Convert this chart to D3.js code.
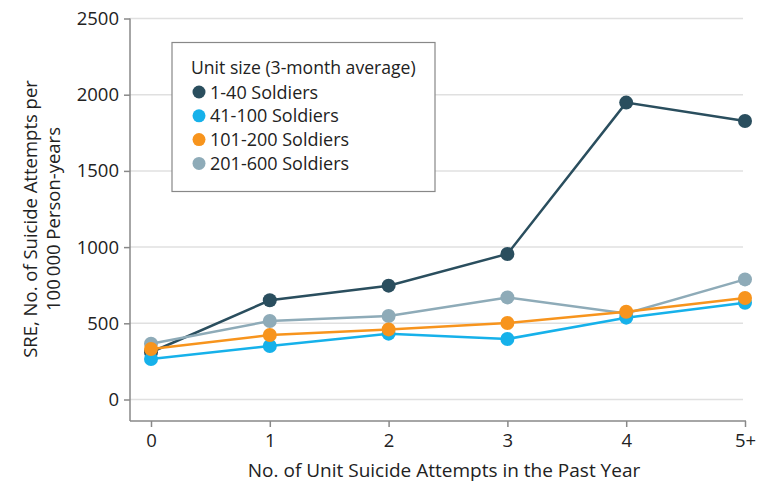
<!DOCTYPE html>
<html lang="en">
<head>
  <meta charset="UTF-8">
  <title>SRE by unit size</title>
  <style>
    body { margin: 0; background: #fff; }
    text { font-family: "Open Sans", sans-serif; fill: #222; }
  </style>
</head>
<body>
  <svg id="svg" width="763" height="483"></svg>
  <script src="https://cdn.jsdelivr.net/npm/d3@7"></script>
  <script>
    const categories = ['0', '1', '2', '3', '4', '5+']
    const yTicks = [0, 500, 1000, 1500, 2000, 2500]
    const seriesNames = ['1-40 Soldiers', '41-100 Soldiers', '101-200 Soldiers', '201-600 Soldiers']
    const small = [310, 651, 747, 955, 1948, 1827]
    const medium = [266, 351, 432, 397, 537, 635]
    const large = [331, 423, 460, 502, 576, 666]
    const xlarge = [366, 515, 548, 670, 565, 788]
    const colors = ['#2a4e5e', '#16b1ea', '#f7941d', '#8eabb8']

    const series = [
      { name: seriesNames[0], values: small, color: colors[0] },
      { name: seriesNames[1], values: medium, color: colors[1] },
      { name: seriesNames[2], values: large, color: colors[2] },
      { name: seriesNames[3], values: xlarge, color: colors[3] }
    ]
    // draw order: dark first, then gray, blue, orange on top
    const drawOrder = [0, 3, 1, 2]

    const axisLeftX = 130
    const axisBottomY = 421
    const font = '"Open Sans", sans-serif'

    const x = d3.scalePoint()
      .domain(categories)
      .range([151, 745])

    const y = d3.scaleLinear()
      .domain([0, 2500])
      .range([399.5, 18.5])

    const svg = d3.select('#svg')

    // gridlines
    svg.append('g')
      .selectAll('line')
      .data(yTicks)
      .enter()
      .append('line')
      .attr('x1', axisLeftX)
      .attr('x2', 743)
      .attr('y1', d => y(d))
      .attr('y2', d => y(d))
      .attr('stroke', '#e0e0e0')
      .attr('stroke-width', 1.5)

    // left axis
    const leftAxis = d3.axisLeft(y)
      .tickValues(yTicks)
      .tickFormat(d3.format('d'))
      .tickSize(6)
      .tickPadding(5)
    const gy = svg.append('g')
      .attr('transform', `translate(${axisLeftX}, 0)`)
      .call(leftAxis)
    gy.select('.domain').remove()
    gy.append('line')
      .attr('x1', 0).attr('x2', 0)
      .attr('y1', y(2500)).attr('y2', axisBottomY)
      .attr('stroke', '#888').attr('stroke-width', 1.5)
    gy.selectAll('.tick line').attr('stroke', '#888').attr('stroke-width', 1.5)
    gy.selectAll('.tick text')
      .style('font-family', font)
      .style('font-size', '18.5px')
      .attr('fill', '#222')

    // bottom axis
    const bottomAxis = d3.axisBottom(x)
      .tickSize(6)
      .tickPadding(7)
    const gx = svg.append('g')
      .attr('transform', `translate(0, ${axisBottomY})`)
      .call(bottomAxis)
    gx.select('.domain').remove()
    gx.append('line')
      .attr('x1', axisLeftX).attr('x2', 746)
      .attr('y1', 0).attr('y2', 0)
      .attr('stroke', '#888').attr('stroke-width', 1.5)
    gx.selectAll('.tick line').attr('stroke', '#888').attr('stroke-width', 1.5)
    gx.selectAll('.tick text')
      .style('font-family', font)
      .style('font-size', '18.5px')
      .attr('fill', '#222')

    // lines and points
    const line = d3.line()
      .x((d, i) => x(categories[i]))
      .y(d => y(d))

    drawOrder.forEach(k => {
      const s = series[k]
      const g = svg.append('g')
      g.append('path')
        .datum(s.values)
        .attr('d', line)
        .attr('fill', 'none')
        .attr('stroke', s.color)
        .attr('stroke-width', 2.5)
      g.selectAll('circle')
        .data(s.values)
        .enter()
        .append('circle')
        .attr('cx', (d, i) => x(categories[i]))
        .attr('cy', d => y(d))
        .attr('r', 7)
        .attr('fill', s.color)
    })

    // axis titles
    svg.append('text')
      .attr('x', 444)
      .attr('y', 477)
      .attr('text-anchor', 'middle')
      .style('font-size', '19px')
      .text('No. of Unit Suicide Attempts in the Past Year')

    const yTitle = svg.append('text')
      .attr('transform', 'translate(37, 219) rotate(-90)')
      .attr('text-anchor', 'middle')
      .style('font-size', '18.5px')
    yTitle.append('tspan').attr('x', 0).attr('y', 0).text('SRE, No. of Suicide Attempts per')
    yTitle.append('tspan').attr('x', 0).attr('y', 23).text('100\u2009000 Person-years')

    // legend
    const legend = svg.append('g')
    legend.append('rect')
      .attr('x', 172).attr('y', 42.5)
      .attr('width', 263).attr('height', 149)
      .attr('fill', '#fff')
      .attr('stroke', '#888')
      .attr('stroke-width', 1.2)
    legend.append('text')
      .attr('x', 191).attr('y', 74)
      .style('font-size', '17.6px')
      .text('Unit size (3-month average)')
    series.forEach((s, i) => {
      const cy = 92 + i * 23.8
      legend.append('circle')
        .attr('cx', 199).attr('cy', cy)
        .attr('r', 6.5)
        .attr('fill', s.color)
      legend.append('text')
        .attr('x', 210).attr('y', cy + 6.5)
        .style('font-size', '18px')
        .text(s.name)
    })
  </script>
</body>
</html>
